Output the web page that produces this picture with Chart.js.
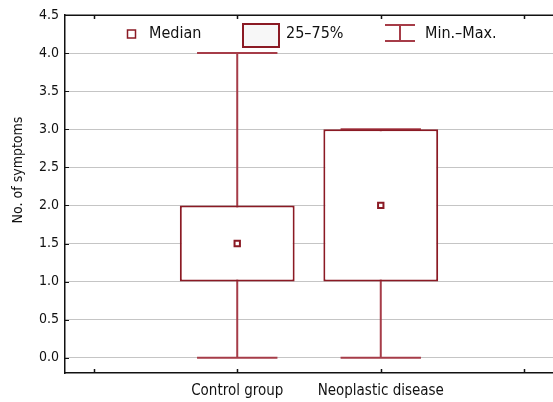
<!DOCTYPE html>
<html>
<head>
<meta charset="utf-8">
<script src="https://cdn.jsdelivr.net/npm/chart.js@4.4.1/dist/chart.umd.min.js"></script>
<style>
  html, body { margin: 0; padding: 0; background: #fff; }
  #wrap { width: 553px; height: 402px; }
</style>
</head>
<body>
<div id="wrap"><canvas id="c" width="553" height="402"></canvas></div>
<script>
// Symptom counts per group: min, quartiles, median, max
const groupPos    = [1, 2];
const minVals     = [0, 0];
const q1Vals      = [1, 1];
const medianVals  = [1.5, 2];
const q3Vals      = [2, 3];
const maxVals     = [4, 3];
const xTickLabels = ['', 'Control group', 'Neoplastic disease', ''];
const legendLabels = ['Median', '25–75%', 'Min.–Max.'];
const yTitle = 'No. of symptoms';

const FONT = "'Liberation Sans Narrow', 'DejaVu Sans Condensed', 'Arial Narrow', sans-serif";
const BOX_RED = '#8b1a24';
const WHISKER_RED = '#a63c48';
const INK = '#111';
const CAP_HALF = 0.28;   // half width of whisker caps, in x units

// whisker stems and caps as broken line segments
const whiskerData = [];
groupPos.forEach((x, i) => {
  whiskerData.push({x: x, y: minVals[i]}, {x: x, y: maxVals[i]}, {x: x, y: null});
  whiskerData.push({x: x - CAP_HALF, y: minVals[i]}, {x: x + CAP_HALF, y: minVals[i]}, {x: x, y: null});
  whiskerData.push({x: x - CAP_HALF, y: maxVals[i]}, {x: x + CAP_HALF, y: maxVals[i]}, {x: x, y: null});
});

const boxData = groupPos.map((x, i) => ({x: x, y: [q1Vals[i], q3Vals[i]]}));
const medianData = groupPos.map((x, i) => ({x: x, y: medianVals[i]}));

// frame, inner tick marks, y title and in-plot legend
const decorations = {
  id: 'decorations',
  afterDraw(chart) {
    const {ctx, chartArea: a, scales: {x, y}} = chart;
    ctx.save();
    ctx.strokeStyle = INK;
    ctx.lineWidth = 1.5;
    ctx.beginPath();
    ctx.moveTo(a.left, a.top + 0.25);
    ctx.lineTo(chart.width, a.top + 0.25);
    ctx.stroke();

    x.ticks.forEach(t => {
      const px = Math.round(x.getPixelForValue(t.value)) + 0.5;
      ctx.beginPath();
      ctx.moveTo(px, a.top); ctx.lineTo(px, a.top + 4);
      ctx.moveTo(px, a.bottom); ctx.lineTo(px, a.bottom - 4);
      ctx.stroke();
    });
    ctx.lineWidth = 1;
    y.ticks.forEach(t => {
      const py = Math.round(y.getPixelForValue(t.value)) + 0.5;
      ctx.beginPath();
      ctx.moveTo(a.left, py); ctx.lineTo(a.left + 4, py);
      ctx.stroke();
    });

    // y axis title
    ctx.fillStyle = INK;
    ctx.font = '14px ' + FONT;
    ctx.textAlign = 'center';
    ctx.textBaseline = 'middle';
    ctx.translate(18, 170);
    ctx.rotate(-Math.PI / 2);
    ctx.fillText(yTitle, 0, 0);
    ctx.setTransform(1, 0, 0, 1, 0, 0);

    // legend
    ctx.font = '16px ' + FONT;
    ctx.textAlign = 'left';
    ctx.textBaseline = 'middle';
    const ly = 34;
    // median symbol
    ctx.fillStyle = '#fff';
    ctx.strokeStyle = BOX_RED;
    ctx.lineWidth = 1.5;
    ctx.fillRect(127.5, 30, 8, 8);
    ctx.strokeRect(127.5, 30, 8, 8);
    ctx.fillStyle = INK;
    ctx.fillText(legendLabels[0], 149, ly);
    // box symbol
    ctx.fillStyle = '#f7f7f7';
    ctx.lineWidth = 2;
    ctx.fillRect(243, 24, 36, 23);
    ctx.strokeRect(243, 24, 36, 23);
    ctx.fillStyle = INK;
    ctx.fillText(legendLabels[1], 286, ly);
    // whisker symbol
    ctx.strokeStyle = WHISKER_RED;
    ctx.lineWidth = 2;
    ctx.beginPath();
    ctx.moveTo(385, 25); ctx.lineTo(415, 25);
    ctx.moveTo(385, 41); ctx.lineTo(415, 41);
    ctx.moveTo(400, 25); ctx.lineTo(400, 41);
    ctx.stroke();
    ctx.fillStyle = INK;
    ctx.fillText(legendLabels[2], 425, ly);
    ctx.restore();
  }
};

new Chart(document.getElementById('c'), {
  type: 'bar',
  data: {
    datasets: [
      {
        type: 'line',
        data: whiskerData,
        borderColor: WHISKER_RED,
        borderWidth: 2,
        pointRadius: 0,
        spanGaps: false,
        tension: 0,
        order: 3
      },
      {
        type: 'bar',
        data: boxData,
        backgroundColor: '#ffffff',
        borderColor: BOX_RED,
        borderWidth: 2,
        borderSkipped: false,
        categoryPercentage: 1,
        barPercentage: 0.8,
        order: 2
      },
      {
        type: 'line',
        data: medianData,
        showLine: false,
        pointStyle: 'rect',
        pointRadius: 3.8,
        pointBorderWidth: 2,
        pointBorderColor: BOX_RED,
        pointBackgroundColor: '#ffffff',
        order: 1
      }
    ]
  },
  options: {
    responsive: false,
    animation: false,
    devicePixelRatio: 1,
    layout: { autoPadding: false, padding: { top: 15, right: 0, left: 0, bottom: 0 } },
    plugins: { legend: { display: false }, tooltip: { enabled: false } },
    scales: {
      x: {
        type: 'linear',
        min: -0.2,
        max: 3.2,
        offset: false,
        ticks: {
          stepSize: 1,
          includeBounds: false,
          autoSkip: false,
          maxRotation: 0,
          padding: 9,
          color: INK,
          font: { family: FONT, size: 15 },
          callback: v => xTickLabels[v] ?? ''
        },
        grid: { display: false, drawTicks: false, offset: false },
        border: { display: true, color: INK, width: 1.5 },
        afterFit: s => { s.height = 29; }
      },
      y: {
        min: -0.2,
        max: 4.5,
        ticks: {
          stepSize: 0.5,
          includeBounds: false,
          padding: 6,
          color: INK,
          font: { family: FONT, size: 14 },
          callback: v => Number(v).toFixed(1)
        },
        grid: { color: '#8a8a8a', lineWidth: 1, drawTicks: false },
        border: { display: true, color: INK, width: 1.5, dash: [1, 1] },
        afterFit: s => { s.width = 65; }
      }
    }
  },
  plugins: [decorations]
});
</script>
</body>
</html>
